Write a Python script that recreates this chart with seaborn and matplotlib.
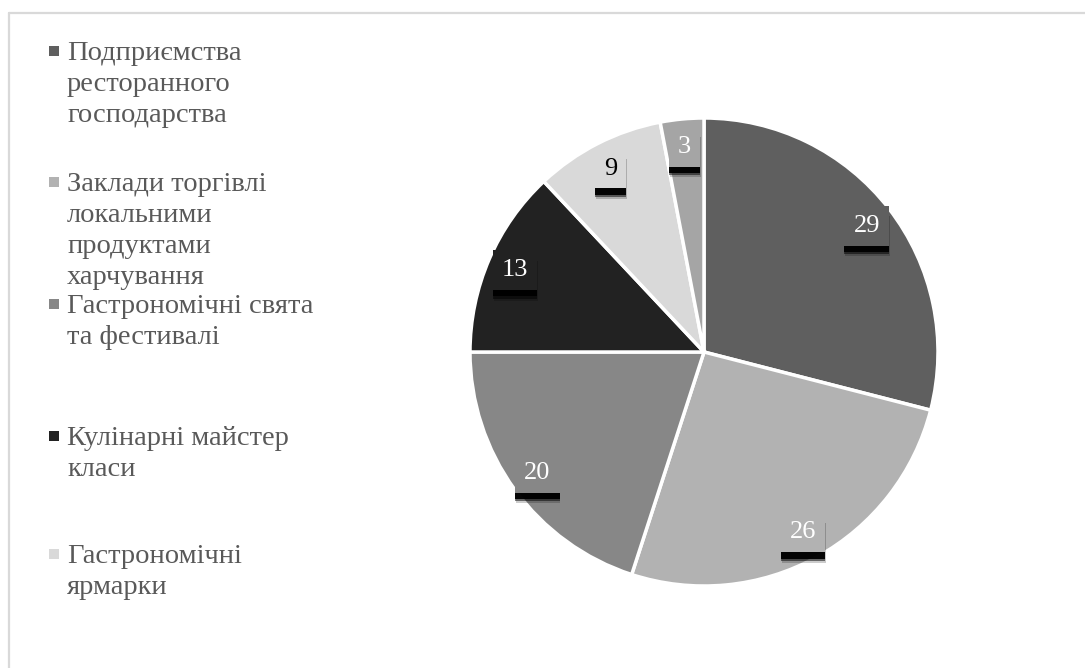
import matplotlib
matplotlib.use("Agg")
import matplotlib.pyplot as plt
import matplotlib.patheffects as pe
from matplotlib.lines import Line2D
from matplotlib.patches import Rectangle
import seaborn as sns

sns.set_theme(style="white")
plt.rcParams['font.family'] = ['Liberation Serif', 'DejaVu Serif']

categories = [
    "Подприємства\nресторанного\nгосподарства",
    "Заклади торгівлі\nлокальними\nпродуктами\nхарчування",
    "Гастрономічні свята\nта фестивалі",
    "Кулінарні майстер\nкласи",
    "Гастрономічні\nярмарки",
    "",
]
values = [29, 26, 20, 13, 9, 3]
colors = ["#5f5f5f", "#b2b2b2", "#878787", "#222222", "#d9d9d9", "#a5a5a5"]
label_text_colors = ["white", "white", "white", "white", "black", "white"]

W, H = 1085, 668
fig = plt.figure(figsize=(W / 100, H / 100), dpi=100)
fig.patch.set_facecolor("white")

# outer border
fig.add_artist(Line2D([9 / W, 1.0], [1 - 13 / H, 1 - 13 / H], color="#d9d9d9", lw=1.6, transform=fig.transFigure))
fig.add_artist(Line2D([9 / W, 9 / W], [0, 1 - 13 / H], color="#d9d9d9", lw=1.6, transform=fig.transFigure))

cx, cy, R = 704, 352, 234
ax = fig.add_axes([(cx - R) / W, (H - cy - R) / H, 2 * R / W, 2 * R / H])
wedges, _, autotexts = ax.pie(
    values, colors=colors, startangle=90, counterclock=False,
    autopct=lambda p: f"{round(p):.0f}", pctdistance=0.88,
    wedgeprops=dict(edgecolor="white", linewidth=2.5),
)
ax.set_xlim(-1, 1)
ax.set_ylim(-1, 1)
ax.set_aspect("equal")
ax.axis("off")

for t, c, tc in zip(autotexts, colors, label_text_colors):
    t.set_fontsize(19)
    t.set_color(tc)
    t.set_bbox(dict(boxstyle="square,pad=0.34", facecolor=c, edgecolor="none"))
    t.get_bbox_patch().set_path_effects([
        pe.SimplePatchShadow(offset=(0.5, -7.5), shadow_rgbFace="black", alpha=0.2),
        pe.SimplePatchShadow(offset=(0, -6), shadow_rgbFace="black", alpha=0.5),
        pe.SimplePatchShadow(offset=(0, -4.5), shadow_rgbFace="black", alpha=0.95),
        pe.Normal(),
    ])

# legend (Excel-like slots)
legend_tops = [52, 183, 305, 437, 555]
for lab, col, ytop in zip(categories[:5], colors[:5], legend_tops):
    fig.add_artist(Rectangle((49 / W, 1 - (ytop + 4) / H), 10 / W, 10 / H,
                             facecolor=col, edgecolor="none", transform=fig.transFigure))
    fig.text(67 / W, 1 - (ytop - 11) / H, lab, fontsize=20.5, color="#595959",
             va="top", ha="left", linespacing=1.32)

fig.savefig("out.png", dpi=100, facecolor="white")
